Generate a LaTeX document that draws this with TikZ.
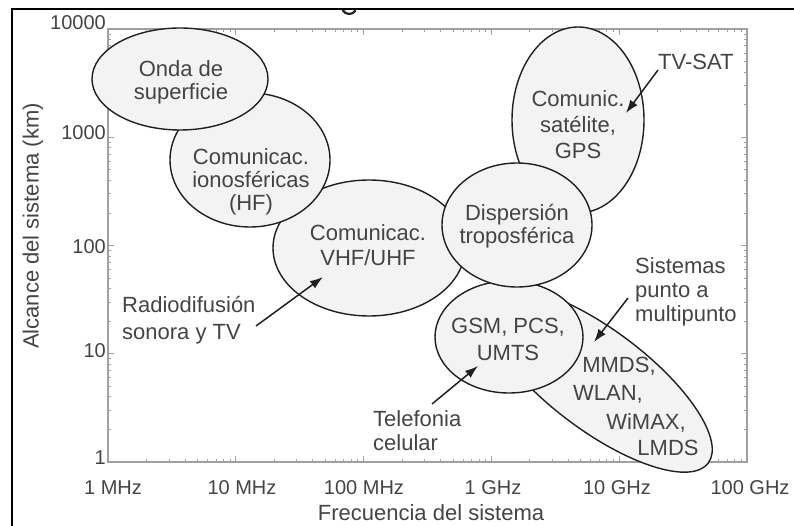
\documentclass[tikz,border=0pt]{standalone}
\usepackage{fontspec}
\setmainfont{Liberation Sans}
\usetikzlibrary{shapes.geometric,arrows.meta}
\definecolor{fillgray}{HTML}{F3F3F3}
\definecolor{txt}{HTML}{444444}
\definecolor{axgray}{HTML}{A0A0A0}
\definecolor{edge}{HTML}{202020}
\begin{document}
\begin{tikzpicture}[x=1pt,y=-1pt,
  region/.style={ellipse, draw=edge, line width=1.4pt, fill=fillgray, inner sep=0pt},
  lbl/.style={text=txt, font=\fontsize{22}{23}\selectfont, align=center, inner sep=0pt},
  lbll/.style={text=txt, font=\fontsize{22}{25}\selectfont, align=left, inner sep=0pt, anchor=west},
  ticklbl/.style={text=txt, font=\fontsize{20}{22}\selectfont, inner sep=0pt},
  axtitle/.style={text=txt, font=\fontsize{22}{24}\selectfont, inner sep=0pt},
  arr/.style={-{Latex[length=13pt,width=9pt]}, line width=1.5pt, draw=edge},
  axisline/.style={draw=axgray, line width=1.2pt},
  tickmark/.style={draw=axgray, line width=0.8pt}]
\useasboundingbox (0,0) rectangle (794,526);
\fill[white] (0,0) rectangle (794,526);
% remnant of a cut-off title glyph
\draw[edge, line width=2.2pt, line cap=round] (343,10.5) .. controls (345,15) and (353,15) .. (355,11);
% outer frame
\draw[black, line width=2pt] (12,526) -- (12,9) -- (794,9);
% axes box
\draw[axisline] (108,29) rectangle (747,462);
% x ticks
\foreach \k in {0,...,5} {
  \pgfmathsetmacro\xx{108+127.8*\k}
  \draw[tickmark] (\xx,462) -- ++(0,-6);
  \draw[tickmark] (\xx,29) -- ++(0,6);
}
\foreach \k in {0,...,4} {
  \foreach \m in {2,...,9} {
    \pgfmathsetmacro\xx{108+127.8*(\k+log10(\m))}
    \draw[tickmark] (\xx,462) -- ++(0,-3);
    \draw[tickmark] (\xx,29) -- ++(0,3);
  }
}
% y ticks
\foreach \j in {0,...,4} {
  \pgfmathsetmacro\yy{462-108.25*\j}
  \draw[tickmark] (108,\yy) -- ++(6,0);
  \draw[tickmark] (747,\yy) -- ++(-6,0);
}
\foreach \j in {0,...,3} {
  \foreach \m in {2,...,9} {
    \pgfmathsetmacro\yy{462-108.25*(\j+log10(\m))}
    \draw[tickmark] (108,\yy) -- ++(3,0);
    \draw[tickmark] (747,\yy) -- ++(-3,0);
  }
}
% tick labels
\node[ticklbl, anchor=base east] (y4) at (106,30) {10000};
\node[ticklbl, anchor=base east] (y3) at (106,140) {1000};
\node[ticklbl, anchor=base east] (y2) at (106,254) {100};
\node[ticklbl, anchor=base east] (y1) at (106,357) {10};
\node[ticklbl, anchor=base east] (y0) at (106,464) {1};
\node[ticklbl, anchor=base] (x0) at (113,494) {1 MHz};
\node[ticklbl, anchor=base] (x1) at (242,494) {10 MHz};
\node[ticklbl, anchor=base] (x2) at (364,494) {100 MHz};
\node[ticklbl, anchor=base] (x3) at (493,494) {1 GHz};
\node[ticklbl, anchor=base] (x4) at (617,494) {10 GHz};
\node[ticklbl, anchor=base] (x5) at (750,494) {100 GHz};
% axis titles
\node[axtitle, anchor=base] (xtitle) at (431,520) {Frecuencia del sistema};
\node[axtitle, rotate=90] (ytitle) at (33,226) {Alcance del sistema (km)};
% regions (back to front)
\node[region, rotate=-37, minimum width=276pt, minimum height=100pt] (mmds) at (598,380) {};
\node[region, minimum width=148pt, minimum height=112pt] (gsm) at (509,337) {};
\node[region, minimum width=132pt, minimum height=186pt] (sat) at (578,120) {};
\node[region, minimum width=192pt, minimum height=136pt] (vhf) at (369,248) {};
\node[region, minimum width=160pt, minimum height=134pt] (iono) at (250,160) {};
\node[region, minimum width=176pt, minimum height=102pt] (onda) at (180,79) {};
\node[region, minimum width=150pt, minimum height=124pt] (tropo) at (517,225) {};
% region texts
\node[lbl] (ondat) at (181,82) {Onda de\\superficie};
\node[lbl] (ionot) at (251,182) {Comunicac.\\ionosféricas\\(HF)};
\node[lbl, font=\fontsize{22}{25}\selectfont] (vhft) at (368,245) {Comunicac.\\VHF/UHF};
\node[lbl] (tropot) at (517,226) {Dispersión\\troposférica};
\node[lbl, font=\fontsize{22}{26}\selectfont] (satt) at (578,125) {Comunic.\\satélite,\\GPS};
\node[lbl, font=\fontsize{22}{27}\selectfont] (gsmt) at (508,339) {GSM, PCS,\\UMTS};
\node[lbl, anchor=base] (mmds1) at (619,372) {MMDS,};
\node[lbl, anchor=base] (mmds2) at (608,400) {WLAN,};
\node[lbl, anchor=base] (mmds3) at (646,429) {WiMAX,};
\node[lbl, anchor=base] (mmds4) at (668,455) {LMDS};
% outside labels
\node[lbll] (tvsat) at (658,62) {TV-SAT};
\node[lbll, font=\fontsize{22}{27}\selectfont] (radio) at (122,320) {Radiodifusión\\sonora y TV};
\node[lbll, font=\fontsize{22}{24}\selectfont] (telef) at (373,431) {Telefonia\\celular};
\node[lbll, font=\fontsize{22}{24}\selectfont] (sist) at (635,292) {Sistemas\\punto a\\multipunto};
% arrows
\coordinate (tvsatA) at (658,70);
\coordinate (tvsatB) at (626,113);
\coordinate (radioA) at (256,326);
\coordinate (radioB) at (323,277);
\coordinate (telefA) at (432,404);
\coordinate (telefB) at (478,366);
\coordinate (sistA) at (628,298);
\coordinate (sistB) at (594,342);
\draw[arr] (tvsatA) -- (tvsatB);
\draw[arr] (radioA) -- (radioB);
\draw[arr] (telefA) -- (telefB);
\draw[arr] (sistA) -- (sistB);
\end{tikzpicture}
\end{document}
